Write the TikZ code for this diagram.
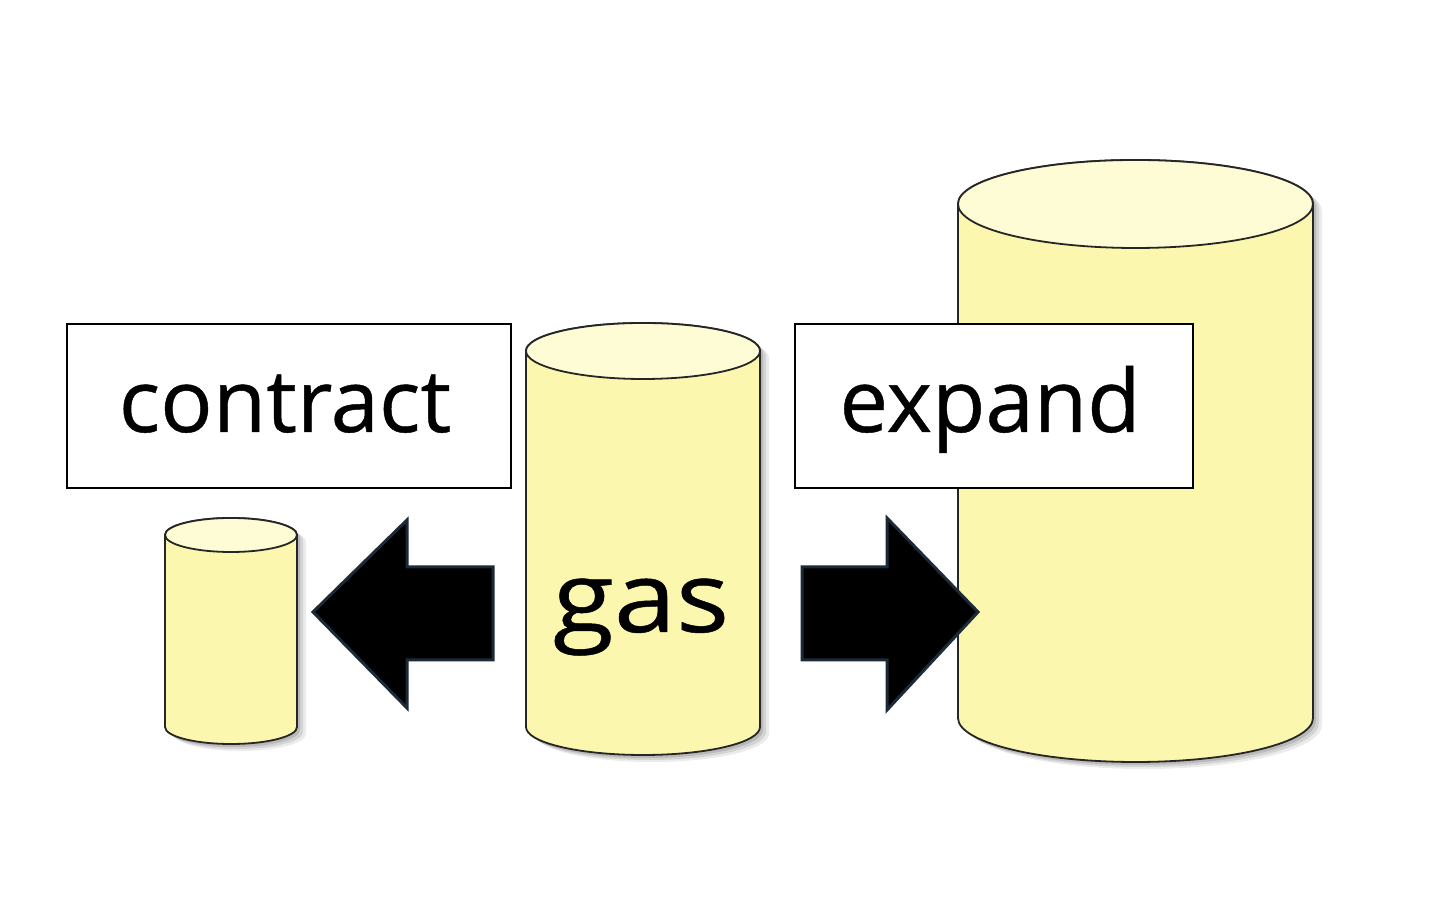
\documentclass[tikz,border=0pt]{standalone}
\usepackage{fontspec}
\setmainfont{Open Sans}
\newfontfamily\lblfont[FakeBold=0.5]{Open Sans}
\usetikzlibrary{shadows}
\definecolor{cylbodyc}{HTML}{FCF7AE}
\definecolor{cyltopc}{HTML}{FEFCD4}
\definecolor{arrowedge}{HTML}{1C2A38}
\tikzset{
  cylbody/.style={draw=black!85, line width=1.8pt, fill=cylbodyc,
    drop shadow={shadow xshift=3pt, shadow yshift=-3pt, opacity=0.12, fill=black},
    drop shadow={shadow xshift=6pt, shadow yshift=-5pt, opacity=0.10, fill=black},
    drop shadow={shadow xshift=9pt, shadow yshift=-7pt, opacity=0.08, fill=black}},
  cyltop/.style={draw=black!85, line width=1.8pt, fill=cyltopc},
  labelbox/.style={draw=black, line width=1.4pt, fill=white, inner sep=0pt},
  bigarrow/.style={fill=black, draw=arrowedge, line width=3pt, line join=miter},
  lbl/.style={font=\lblfont\fontsize{87}{95}\selectfont, anchor=base, inner sep=0pt}
}
\begin{document}
\begin{tikzpicture}[x=1pt,y=1pt]
\useasboundingbox[fill=white] (0,0) rectangle (1440,912);
% small cylinder
\draw[cylbody] (165,377) -- (165,185) arc[start angle=180,end angle=360,x radius=66pt,y radius=17pt] -- (297,377) arc[start angle=0,end angle=180,x radius=66pt,y radius=17pt] -- cycle;
\draw[cyltop] (231,377) ellipse[x radius=66pt,y radius=17pt];
% middle cylinder
\draw[cylbody] (526,561) -- (526,185) arc[start angle=180,end angle=360,x radius=117pt,y radius=28pt] -- (760,561) arc[start angle=0,end angle=180,x radius=117pt,y radius=28pt] -- cycle;
\draw[cyltop] (643,561) ellipse[x radius=117pt,y radius=28pt];
% big cylinder
\draw[cylbody] (958,708) -- (958,194) arc[start angle=180,end angle=360,x radius=177.5pt,y radius=44pt] -- (1313,708) arc[start angle=0,end angle=180,x radius=177.5pt,y radius=44pt] -- cycle;
\draw[cyltop] (1135.5,708) ellipse[x radius=177.5pt,y radius=44pt];
% arrows
\draw[bigarrow] (313,300) -- (407,392) -- (407,345) -- (493,345) -- (493,252) -- (407,252) -- (407,204) -- cycle;
\draw[bigarrow] (978,300) -- (887,394) -- (887,345) -- (802,345) -- (802,252) -- (887,252) -- (887,202) -- cycle;
% boxes
\node[labelbox, minimum width=444pt, minimum height=164pt] (contractbox) at (289,506) {};
\node[labelbox, minimum width=398pt, minimum height=164pt] (expandbox) at (994,506) {};
\node[lbl] (contract) at (285,480) {contract};
\node[lbl] (expand) at (990,480) {expand};
\node[lbl, font=\lblfont\fontsize{98}{106}\selectfont, xscale=1.14] (gas) at (641,280) {gas};
\end{tikzpicture}
\end{document}
